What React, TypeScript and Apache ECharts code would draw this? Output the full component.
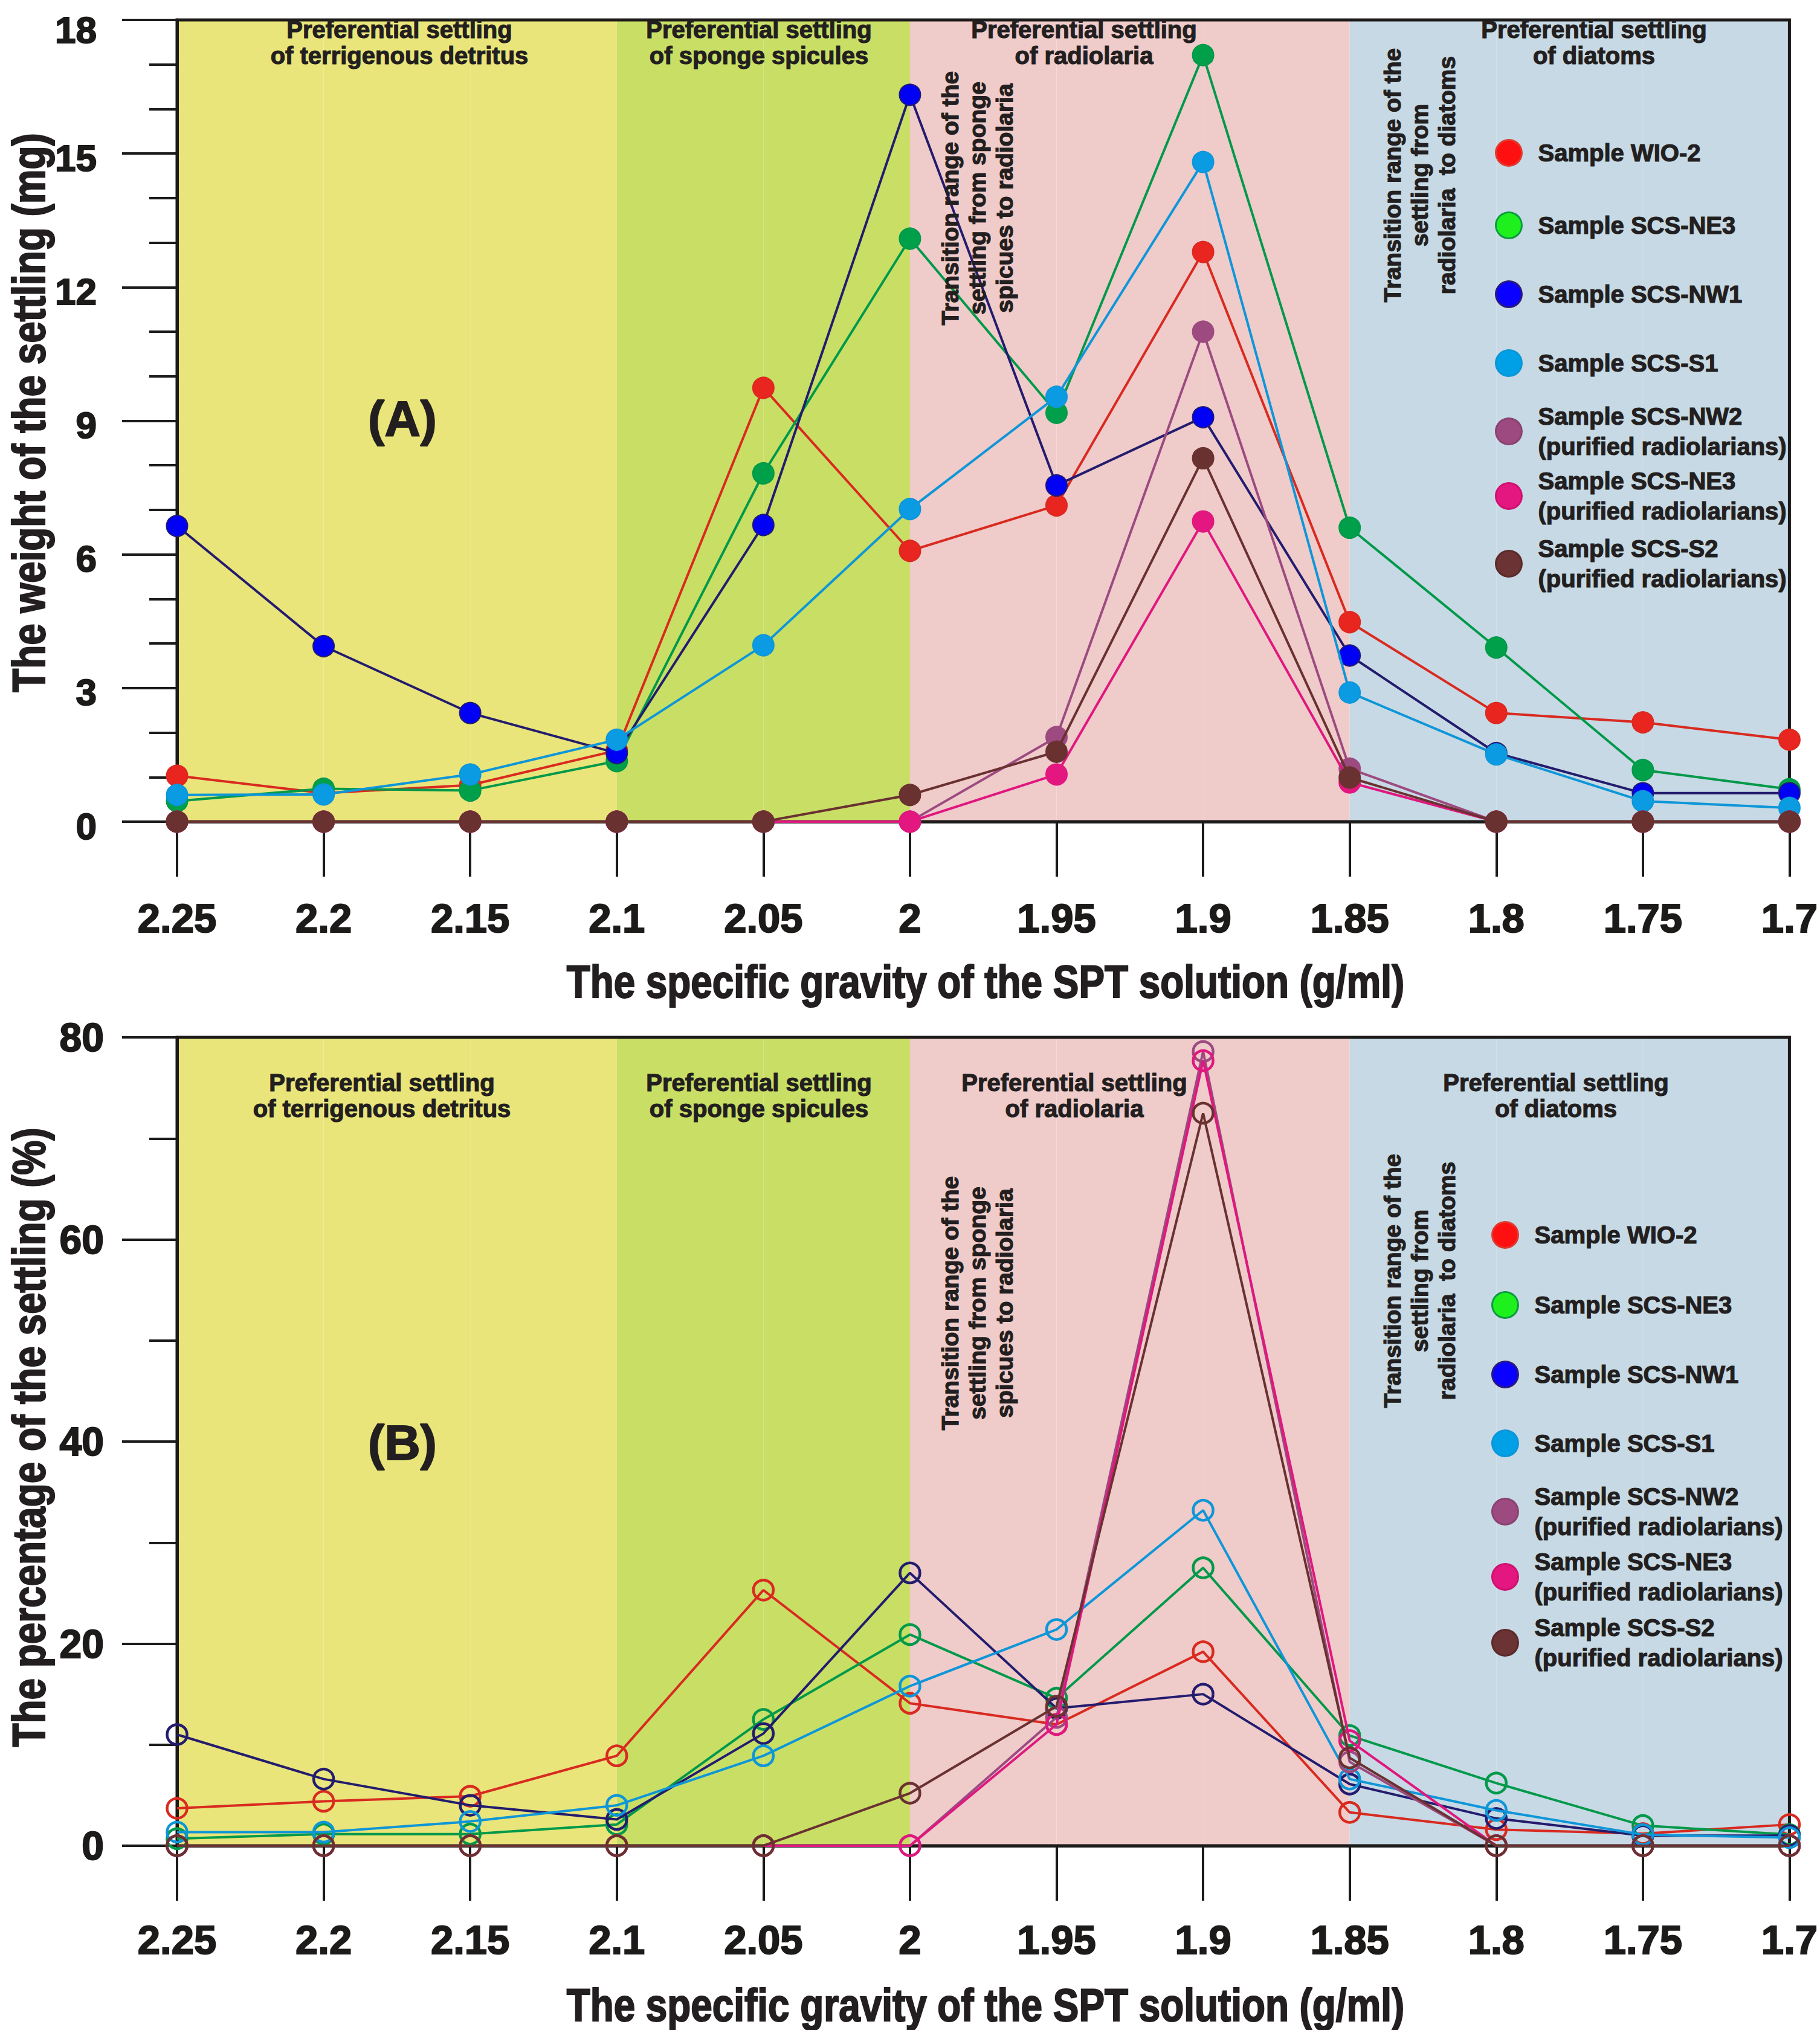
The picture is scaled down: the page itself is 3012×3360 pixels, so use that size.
import React, { useEffect, useRef } from 'react';
import * as echarts from 'echarts';

// ---------------- data ----------------
const categories = ['2.25', '2.2', '2.15', '2.1', '2.05', '2', '1.95', '1.9', '1.85', '1.8', '1.75', '1.7'];

const sampleNames = [
  'Sample WIO-2',
  'Sample SCS-NE3',
  'Sample SCS-NW1',
  'Sample SCS-S1',
  'Sample SCS-NW2\n(purified radiolarians)',
  'Sample SCS-NE3\n(purified radiolarians)',
  'Sample SCS-S2\n(purified radiolarians)',
];

// Panel A: weight of the settling (mg)
const weightWIO2 = [1.03, 0.64, 0.82, 1.6, 9.74, 6.08, 7.1, 12.79, 4.48, 2.44, 2.23, 1.84];
const weightNE3 = [0.46, 0.74, 0.7, 1.36, 7.82, 13.09, 9.18, 17.21, 6.6, 3.91, 1.16, 0.73];
const weightNW1 = [6.64, 3.94, 2.44, 1.54, 6.66, 16.32, 7.55, 9.08, 3.73, 1.54, 0.64, 0.64];
const weightS1 = [0.6, 0.61, 1.06, 1.84, 3.96, 7.02, 9.54, 14.81, 2.9, 1.51, 0.46, 0.31];
const weightNW2p = [0, 0, 0, 0, 0, 0, 1.9, 11.0, 1.19, 0, 0, 0];
const weightNE3p = [0, 0, 0, 0, 0, 0, 1.06, 6.74, 0.88, 0, 0, 0];
const weightS2p = [0, 0, 0, 0, 0, 0.6, 1.57, 8.16, 0.99, 0, 0, 0];

// Panel B: percentage of the settling (%)
const pctWIO2 = [3.7, 4.4, 4.9, 8.9, 25.3, 14.1, 12.0, 19.2, 3.3, 1.6, 1.2, 2.1];
const pctNE3 = [0.7, 1.15, 1.15, 2.1, 12.5, 20.9, 14.6, 27.5, 10.9, 6.2, 2.0, 1.1];
const pctNW1 = [11.0, 6.6, 4.0, 2.6, 11.1, 27.0, 13.6, 15.0, 6.1, 2.7, 1.0, 1.0];
const pctS1 = [1.35, 1.35, 2.4, 4.0, 8.9, 15.8, 21.4, 33.2, 6.6, 3.5, 1.1, 0.8];
const pctNW2p = [0, 0, 0, 0, 0, 0, 12.7, 78.6, 8.3, 0, 0, 0];
const pctNE3p = [0, 0, 0, 0, 0, 0, 12.0, 77.7, 10.4, 0, 0, 0];
const pctS2p = [0, 0, 0, 0, 0, 5.2, 13.8, 72.5, 8.7, 0, 0, 0];

const weightTicks = [0, 3, 6, 9, 12, 15, 18];
const percentTicks = [0, 20, 40, 60, 80];

const xTitle = 'The specific gravity of the SPT solution (g/ml)';
const yTitles = ['The weight of the settling (mg)', 'The percentage of the settling (%)'];
const zoneLabels = [
  'Preferential settling\nof terrigenous detritus',
  'Preferential settling\nof sponge spicules',
  'Preferential settling\nof radiolaria',
  'Preferential settling\nof diatoms',
];
const transitionLabels = [
  'Transition range of the\nsettling from sponge\nspicues to radiolaria',
  'Transition range of the\nsettling from\nradiolaria  to diatoms',
];
const panelLabels = ['(A)', '(B)'];

// ---------------- styles ----------------
const FONT = 'Liberation Sans, Arial, Helvetica, sans-serif';
const INK = '#1d1a1a';
const TXT = '#231f20';
const lineColors = ['#d92a20', '#00994a', '#231c6e', '#0e96d8', '#9c4a80', '#e0177f', '#6a3131'];
const markerColors = ['#e8251f', '#00a04a', '#0000f5', '#0a9be2', '#9c4a80', '#e3177f', '#6a3131'];
const legendFill = ['#ff1010', '#1ef01e', '#0a00ff', '#00a0e6', '#9c4a80', '#e3177f', '#6b3333'];
const legendBorder = ['#e03a30', '#0d9a40', '#2a1a7a', '#0a96d9', '#8a4272', '#cf1070', '#5a2a2a'];
const Y = '#e9e57a', G = '#c8de65', P = '#efcbca', B = '#c7d9e4';
const bandColors = [Y, Y, Y, G, G, P, P, P, B, B, B];

const weightSeries = [weightWIO2, weightNE3, weightNW1, weightS1, weightNW2p, weightNE3p, weightS2p];
const pctSeries = [pctWIO2, pctNE3, pctNW1, pctS1, pctNW2p, pctNE3p, pctS2p];

const panels = [
  {
    grid: { left: 293, top: 20, width: 2685, height: 1340 },
    series: weightSeries,
    ticks: weightTicks,
    minorSplit: 3,
    yLabelSize: 62,
    yLabelMargin: 133,
    xLabelMargin: 126,
    nudgeTopLabel: true,
    filled: true,
    legendLeft: 2474,
    legendCenters: [253, 373, 487, 601, 714, 821, 933],
    zonePos: [[661, 70], [1256, 70], [1794, 70], [2638, 70]],
    transPos: [[1617, 328], [2349, 290]],
    panelPos: [666, 692],
    xTitlePos: [1631, 1624],
    yTitlePos: [47, 683],
  },
  {
    grid: { left: 293, top: 1717, width: 2677, height: 1338 },
    series: pctSeries,
    ticks: percentTicks,
    minorSplit: 2,
    yLabelSize: 66,
    yLabelMargin: 121,
    xLabelMargin: 122,
    nudgeTopLabel: false,
    filled: false,
    legendLeft: 2468,
    legendCenters: [2044, 2160, 2275, 2389, 2502, 2610, 2719],
    zonePos: [[632, 1813], [1256, 1813], [1778, 1813], [2575, 1813]],
    transPos: [[1617, 2157], [2349, 2120]],
    panelPos: [666, 2387],
    xTitlePos: [1631, 3318],
    yTitlePos: [47, 2379],
  },
];

function textEl(text: string, x: number, y: number, size: number, extra: any = {}, styleExtra: any = {}) {
  return {
    type: 'text',
    x,
    y,
    z: 10,
    silent: true,
    ...extra,
    style: {
      text,
      fontSize: size,
      fontWeight: 'bold',
      fontFamily: FONT,
      fill: TXT,
      stroke: TXT,
      lineWidth: 1.2,
      align: 'center',
      verticalAlign: 'middle',
      textAlign: 'center',
      textVerticalAlign: 'middle',
      ...styleExtra,
    },
  };
}

function buildOption() {
  const grid: any[] = [];
  const xAxis: any[] = [];
  const yAxis: any[] = [];
  const series: any[] = [];
  const legend: any[] = [];
  const graphic: any[] = [];

  panels.forEach((p, pi) => {
    grid.push({
      ...p.grid,
      show: true,
      borderColor: INK,
      borderWidth: 5,
      backgroundColor: 'transparent',
      z: 1,
    });
    xAxis.push({
      type: 'category',
      gridIndex: pi,
      data: categories,
      boundaryGap: false,
      z: 0,
      axisLine: { show: true, lineStyle: { color: INK, width: 5 } },
      axisTick: { show: true, interval: 0, length: 91, lineStyle: { color: INK, width: 4 } },
      axisLabel: {
        interval: 0,
        fontSize: 67,
        fontWeight: 'bold',
        fontFamily: FONT,
        color: INK,
        textBorderColor: INK,
        textBorderWidth: 2,
        margin: p.xLabelMargin,
      },
      splitLine: { show: false },
      splitArea: { show: true, interval: 0, areaStyle: { color: bandColors } },
    });
    const ticks = p.ticks;
    const maxTick = ticks[ticks.length - 1];
    const labelFont = {
      fontSize: p.yLabelSize,
      fontWeight: 'bold',
      fontFamily: FONT,
      color: INK,
      textBorderColor: INK,
      textBorderWidth: 2,
      lineHeight: 28,
    };
    yAxis.push({
      type: 'value',
      gridIndex: pi,
      min: ticks[0],
      max: maxTick,
      interval: ticks[1] - ticks[0],
      z: 0,
      axisLine: { show: true, lineStyle: { color: INK, width: 5 } },
      axisTick: { show: true, length: 91, lineStyle: { color: INK, width: 4 } },
      minorTick: { show: true, splitNumber: p.minorSplit, length: 46, lineStyle: { color: INK, width: 4 } },
      splitLine: { show: false },
      axisLabel: {
        ...labelFont,
        margin: p.yLabelMargin,
        padding: [14, 0, 0, 0],
        formatter: p.nudgeTopLabel
          ? (v: number) => (v === maxTick ? '{t|' + v + '}' : String(v))
          : undefined,
        rich: p.nudgeTopLabel ? { t: { ...labelFont, padding: [18, 0, 0, 0] } } : undefined,
      },
    });

    p.series.forEach((vals, si) => {
      series.push({
        type: 'line',
        name: sampleNames[si],
        xAxisIndex: pi,
        yAxisIndex: pi,
        data: vals,
        z: 3 + si,
        symbol: 'circle',
        symbolSize: p.filled ? 35 : 33,
        showSymbol: true,
        showAllSymbol: true,
        lineStyle: { color: lineColors[si], width: 4 },
        itemStyle: p.filled
          ? { color: markerColors[si], borderColor: lineColors[si], borderWidth: 2 }
          : { color: 'rgba(0,0,0,0)', borderColor: lineColors[si], borderWidth: 4.5 },
        emphasis: { disabled: true },
        clip: false,
      });
    });

    sampleNames.forEach((name, si) => {
      const twoLine = name.indexOf('\n') >= 0;
      legend.push({
        data: [
          {
            name,
            icon: 'circle',
            itemStyle: { color: legendFill[si], borderColor: legendBorder[si], borderWidth: 3 },
          },
        ],
        left: p.legendLeft,
        top: p.legendCenters[si] - (twoLine ? 50 : 25),
        orient: 'vertical',
        itemWidth: 43,
        itemHeight: 43,
        padding: 0,
        selectedMode: false,
        textStyle: {
          fontSize: 40,
          fontWeight: 'bold',
          fontFamily: FONT,
          color: TXT,
          textBorderColor: TXT,
          textBorderWidth: 1.2,
          lineHeight: 50,
          padding: [0, 0, 0, 22],
        },
      });
    });

    zoneLabels.forEach((t, zi) => {
      graphic.push(textEl(t, p.zonePos[zi][0], p.zonePos[zi][1], 40, {}, { lineHeight: 43 }));
    });
    transitionLabels.forEach((t, ti) => {
      graphic.push(
        textEl(t, p.transPos[ti][0], p.transPos[ti][1], 39, { rotation: Math.PI / 2 }, { lineHeight: 45 })
      );
    });
    graphic.push(textEl(panelLabels[pi], p.panelPos[0], p.panelPos[1], 82, {}, { lineWidth: 2 }));
    // axis titles (condensed heavy type, as in the original)
    graphic.push(
      textEl(xTitle, p.xTitlePos[0], p.xTitlePos[1], 76, { scaleX: 0.84 }, { lineWidth: 2.2 })
    );
    graphic.push(
      textEl(
        yTitles[pi],
        p.yTitlePos[0],
        p.yTitlePos[1],
        76,
        { rotation: Math.PI / 2, scaleX: 0.84 },
        { lineWidth: 2.2 }
      )
    );
  });

  return {
    animation: false,
    backgroundColor: '#ffffff',
    textStyle: { fontFamily: FONT },
    grid,
    xAxis,
    yAxis,
    series,
    legend,
    graphic: { elements: graphic },
  };
}

export default function App() {
  const ref = useRef<HTMLDivElement>(null);
  useEffect(() => {
    document.body.style.margin = '0';
    if (!ref.current) return;
    const chart = echarts.init(ref.current, undefined, { renderer: 'svg' });
    chart.setOption(buildOption() as any);
    return () => {
      chart.dispose();
    };
  }, []);
  return <div ref={ref} style={{ width: 3012, height: 3360 }} />;
}
